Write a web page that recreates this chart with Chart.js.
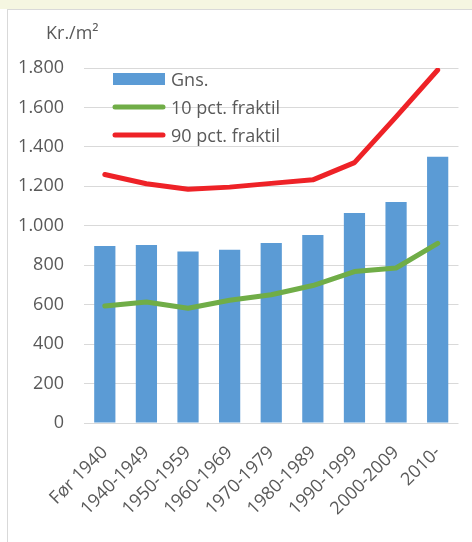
<!DOCTYPE html>
<html>
<head>
<meta charset="utf-8">
<script src="https://cdn.jsdelivr.net/npm/chart.js@4.4.0/dist/chart.umd.min.js"></script>
<style>
  html, body { margin: 0; padding: 0; background: #fff; width: 472px; height: 542px; overflow: hidden; }
  #band { position: absolute; left: 0; top: 0; width: 472px; height: 9px; background: #f5f6e1; }
  #frame { position: absolute; left: 7px; top: 9px; width: 480px; height: 560px; border: 1px solid #d9d9d9; background: #fff; }
  canvas { position: absolute; left: 0; top: 0; }
</style>
</head>
<body>
<div id="band"></div>
<div id="frame"></div>
<canvas id="chart" width="472" height="542"></canvas>
<script>
// data
const categories = ['Før 1940', '1940-1949', '1950-1959', '1960-1969', '1970-1979', '1980-1989', '1990-1999', '2000-2009', '2010-'];
const gns = [898, 903, 870, 878, 913, 953, 1065, 1120, 1350];
const p10 = [593, 614, 582, 622, 650, 697, 768, 786, 911];
const p90 = [1260, 1213, 1185, 1196, 1215, 1233, 1320, 1552, 1790];
const seriesNames = ['Gns.', '10 pct. fraktil', '90 pct. fraktil'];
const unitLabel = 'Kr./m²';

const textColor = '#595959';
Chart.defaults.font.family = '"Open Sans", "Liberation Sans", sans-serif';
Chart.defaults.font.size = 18;
Chart.defaults.color = textColor;

// dansk tusindtalsseparator
function daFormat(v) {
  return String(v).replace(/\B(?=(\d{3})+(?!\d))/g, '.');
}

// legend + enhed tegnes inde i plotområdet
const insideLegend = {
  id: 'insideLegend',
  afterDraw(chart) {
    const { ctx, chartArea } = chart;
    ctx.save();
    ctx.font = '18px "Open Sans", "Liberation Sans", sans-serif';
    ctx.textAlign = 'left';
    ctx.textBaseline = 'alphabetic';
    ctx.fillStyle = textColor;
    ctx.fillText(unitLabel, chartArea.left - 38, chartArea.top - 29);
    chart.data.datasets.forEach((ds, i) => {
      const x = chartArea.left + 29;
      const y = chartArea.top + 11 + i * 28;
      if (ds.type === 'bar') {
        ctx.fillStyle = ds.backgroundColor;
        ctx.fillRect(x, y - 6, 52, 12);
      } else {
        ctx.strokeStyle = ds.borderColor;
        ctx.lineWidth = 5;
        ctx.lineCap = 'round';
        ctx.beginPath();
        ctx.moveTo(x + 2, y);
        ctx.lineTo(x + 50, y);
        ctx.stroke();
      }
      ctx.fillStyle = textColor;
      ctx.fillText(ds.label, x + 58, y + 6.5);
    });
    ctx.restore();
  }
};

const ctx = document.getElementById('chart').getContext('2d');
const chart = new Chart(ctx, {
  data: {
    labels: categories,
    datasets: [
      {
        type: 'bar',
        label: seriesNames[0],
        data: gns,
        backgroundColor: '#5b9bd5',
        barPercentage: 1,
        categoryPercentage: 0.51,
        order: 3
      },
      {
        type: 'line',
        label: seriesNames[1],
        data: p10,
        borderColor: '#70ad47',
        borderWidth: 5,
        pointRadius: 0,
        borderCapStyle: 'round',
        borderJoinStyle: 'round',
        order: 2
      },
      {
        type: 'line',
        label: seriesNames[2],
        data: p90,
        borderColor: '#ee2227',
        borderWidth: 5,
        pointRadius: 0,
        borderCapStyle: 'round',
        borderJoinStyle: 'round',
        order: 1
      }
    ]
  },
  options: {
    responsive: false,
    animation: false,
    devicePixelRatio: 1,
    layout: { padding: { top: 68, left: 0, right: 1, bottom: 0 } },
    plugins: {
      legend: { display: false },
      tooltip: { enabled: false }
    },
    scales: {
      x: {
        grid: { display: false, drawTicks: false },
        border: { display: false },
        ticks: { minRotation: 45, maxRotation: 45, padding: 19, color: textColor },
        afterFit(scale) { scale.height = 119; }
      },
      y: {
        min: 0,
        max: 1800,
        grid: { color: '#d9d9d9', lineWidth: 1, drawTicks: false },
        border: { display: false },
        ticks: {
          stepSize: 200,
          padding: 20,
          color: textColor,
          callback: (v) => daFormat(v)
        },
        afterFit(scale) { scale.width = 84; }
      }
    }
  },
  plugins: [insideLegend]
});
</script>
</body>
</html>
